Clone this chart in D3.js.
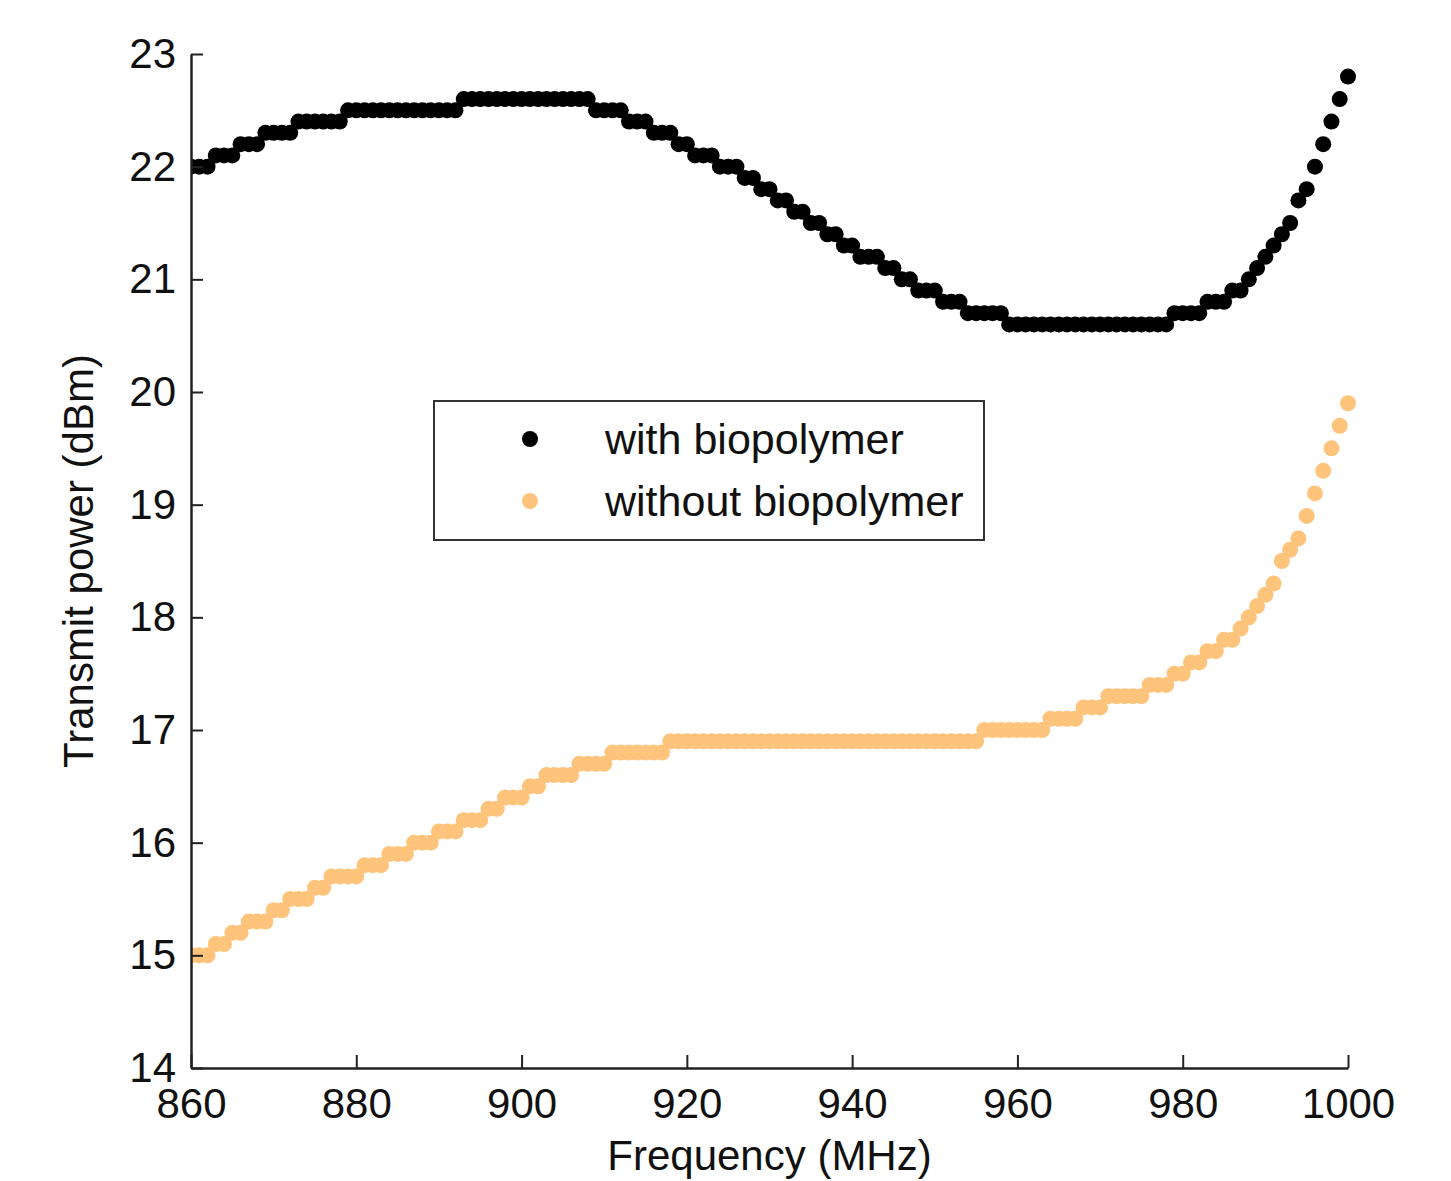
<!DOCTYPE html>
<html>
<head>
<meta charset="utf-8">
<script src="https://cdn.jsdelivr.net/npm/d3@7"></script>
<style>
  html, body { margin: 0; padding: 0; background: #fff; }
  #grafico { width: 1451px; height: 1181px; }
  text { font-family: "Liberation Sans", Arial, Helvetica, sans-serif; fill: #111; }
</style>
</head>
<body>
<div id="grafico"></div>
<script>
// Frequency sweep (MHz), 1 MHz step
const freqInicio = 860;
const freqFim = 1000;
const freqPasso = 1;

// Transmit power (dBm), one value per MHz from 860 to 1000
const comBiopolimero = [
    22.0, 22.0, 22.0, 22.1, 22.1, 22.1, 22.2, 22.2, 22.2, 22.3,   // 860-869
    22.3, 22.3, 22.3, 22.4, 22.4, 22.4, 22.4, 22.4, 22.4, 22.5,   // 870-879
    22.5, 22.5, 22.5, 22.5, 22.5, 22.5, 22.5, 22.5, 22.5, 22.5,   // 880-889
    22.5, 22.5, 22.5, 22.6, 22.6, 22.6, 22.6, 22.6, 22.6, 22.6,   // 890-899
    22.6, 22.6, 22.6, 22.6, 22.6, 22.6, 22.6, 22.6, 22.6, 22.5,   // 900-909
    22.5, 22.5, 22.5, 22.4, 22.4, 22.4, 22.3, 22.3, 22.3, 22.2,   // 910-919
    22.2, 22.1, 22.1, 22.1, 22.0, 22.0, 22.0, 21.9, 21.9, 21.8,   // 920-929
    21.8, 21.7, 21.7, 21.6, 21.6, 21.5, 21.5, 21.4, 21.4, 21.3,   // 930-939
    21.3, 21.2, 21.2, 21.2, 21.1, 21.1, 21.0, 21.0, 20.9, 20.9,   // 940-949
    20.9, 20.8, 20.8, 20.8, 20.7, 20.7, 20.7, 20.7, 20.7, 20.6,   // 950-959
    20.6, 20.6, 20.6, 20.6, 20.6, 20.6, 20.6, 20.6, 20.6, 20.6,   // 960-969
    20.6, 20.6, 20.6, 20.6, 20.6, 20.6, 20.6, 20.6, 20.6, 20.7,   // 970-979
    20.7, 20.7, 20.7, 20.8, 20.8, 20.8, 20.9, 20.9, 21.0, 21.1,   // 980-989
    21.2, 21.3, 21.4, 21.5, 21.7, 21.8, 22.0, 22.2, 22.4, 22.6,   // 990-999
    22.8                                                          // 1000
];

const semBiopolimero = [
    15.0, 15.0, 15.0, 15.1, 15.1, 15.2, 15.2, 15.3, 15.3, 15.3,   // 860-869
    15.4, 15.4, 15.5, 15.5, 15.5, 15.6, 15.6, 15.7, 15.7, 15.7,   // 870-879
    15.7, 15.8, 15.8, 15.8, 15.9, 15.9, 15.9, 16.0, 16.0, 16.0,   // 880-889
    16.1, 16.1, 16.1, 16.2, 16.2, 16.2, 16.3, 16.3, 16.4, 16.4,   // 890-899
    16.4, 16.5, 16.5, 16.6, 16.6, 16.6, 16.6, 16.7, 16.7, 16.7,   // 900-909
    16.7, 16.8, 16.8, 16.8, 16.8, 16.8, 16.8, 16.8, 16.9, 16.9,   // 910-919
    16.9, 16.9, 16.9, 16.9, 16.9, 16.9, 16.9, 16.9, 16.9, 16.9,   // 920-929
    16.9, 16.9, 16.9, 16.9, 16.9, 16.9, 16.9, 16.9, 16.9, 16.9,   // 930-939
    16.9, 16.9, 16.9, 16.9, 16.9, 16.9, 16.9, 16.9, 16.9, 16.9,   // 940-949
    16.9, 16.9, 16.9, 16.9, 16.9, 16.9, 17.0, 17.0, 17.0, 17.0,   // 950-959
    17.0, 17.0, 17.0, 17.0, 17.1, 17.1, 17.1, 17.1, 17.2, 17.2,   // 960-969
    17.2, 17.3, 17.3, 17.3, 17.3, 17.3, 17.4, 17.4, 17.4, 17.5,   // 970-979
    17.5, 17.6, 17.6, 17.7, 17.7, 17.8, 17.8, 17.9, 18.0, 18.1,   // 980-989
    18.2, 18.3, 18.5, 18.6, 18.7, 18.9, 19.1, 19.3, 19.5, 19.7,   // 990-999
    19.9                                                          // 1000
];

const series = ['with biopolymer', 'without biopolymer'];
const ticksX = [860, 880, 900, 920, 940, 960, 980, 1000];
const ticksY = [14, 15, 16, 17, 18, 19, 20, 21, 22, 23];

let Grafico = (() => {
    const largura = 1451;
    const altura = 1181;
    const margin = { top: 54, right: 103, bottom: 113, left: 191 };
    const cores = ['#000000', '#ffc47c'];
    const raio = 8;
    const fonte = 42;

    const desenhar = () => {
        const svg = d3.select('#grafico')
            .append('svg')
            .attr('width', largura)
            .attr('height', altura);

        const frequencias = d3.range(freqInicio, freqFim + freqPasso / 2, freqPasso);

        // Escalas
        const x = d3.scaleLinear()
            .domain([860, 1000])
            .range([margin.left, largura - margin.right]);

        const y = d3.scaleLinear()
            .domain([14, 23])
            .range([altura - margin.bottom, margin.top]);

        // clip only on the left, markers at 860 are cut by the axis
        svg.append('clipPath').attr('id', 'corte')
            .append('rect')
            .attr('x', x(860)).attr('y', 0)
            .attr('width', largura - x(860)).attr('height', altura);

        const pontos = svg.append('g').attr('clip-path', 'url(#corte)');

        [comBiopolimero, semBiopolimero].forEach((valores, i) => {
            pontos.append('g')
                .selectAll('circle')
                .data(frequencias.map((f, k) => ({ f, v: valores[k] })))
                .enter()
                .append('circle')
                .attr('cx', d => x(d.f))
                .attr('cy', d => y(d.v))
                .attr('r', raio)
                .attr('fill', cores[i]);
        });

        // Eixo X
        const eixoX = svg.append('g')
            .attr('transform', `translate(0, ${y(14)})`)
            .call(d3.axisBottom(x)
                .tickValues(ticksX)
                .tickFormat(d3.format('d'))
                .tickSizeInner(-13)
                .tickSizeOuter(0)
                .tickPadding(20));

        // Eixo Y
        const eixoY = svg.append('g')
            .attr('transform', `translate(${x(860)}, 0)`)
            .call(d3.axisLeft(y)
                .tickValues(ticksY)
                .tickFormat(d3.format('d'))
                .tickSizeInner(-12)
                .tickSizeOuter(0)
                .tickPadding(15));

        [eixoX, eixoY].forEach(g => {
            g.select('.domain').attr('stroke', '#222').attr('stroke-width', 2.5);
            g.selectAll('.tick line').attr('stroke', '#222').attr('stroke-width', 2);
            g.selectAll('.tick text')
                .attr('font-family', '"Liberation Sans", Arial, sans-serif')
                .attr('font-size', fonte)
                .attr('fill', '#111');
        });

        // Titulos dos eixos
        svg.append('text')
            .attr('x', (x(860) + x(1000)) / 2)
            .attr('y', 1170)
            .attr('text-anchor', 'middle')
            .attr('font-size', fonte)
            .text('Frequency (MHz)');

        svg.append('text')
            .attr('transform', `translate(93, ${(y(14) + y(23)) / 2}) rotate(-90)`)
            .attr('text-anchor', 'middle')
            .attr('font-size', fonte)
            .text('Transmit power (dBm)');

        // Legenda
        const legenda = svg.append('g');
        legenda.append('rect')
            .attr('x', 434).attr('y', 401)
            .attr('width', 550).attr('height', 139)
            .attr('fill', '#fff')
            .attr('stroke', '#333')
            .attr('stroke-width', 2);

        series.forEach((nome, i) => {
            const cy = 439 + i * 62;
            legenda.append('circle')
                .attr('cx', 530).attr('cy', cy)
                .attr('r', raio)
                .attr('fill', cores[i]);
            legenda.append('text')
                .attr('x', 605)
                .attr('y', cy + 15)
                .attr('font-size', 43)
                .text(nome);
        });
    };

    return { desenhar };
})();

Grafico.desenhar();
</script>
</body>
</html>
